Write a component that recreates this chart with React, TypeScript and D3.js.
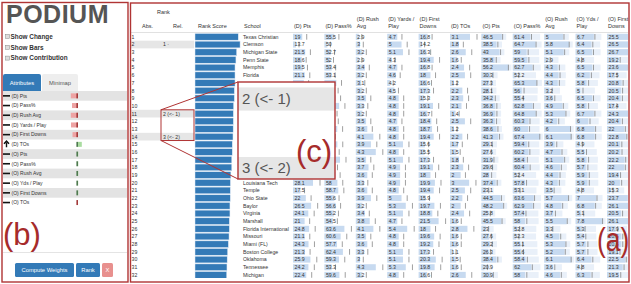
import * as d3 from "d3";

const FONT = "'Liberation Sans', Arial, Helvetica, sans-serif";
const BORDER_RED = "#b03434";
const LABEL_RED = "#a62b2b";
const BLUE = "#337ab7";

// left panel: attributes and their weights
const ATTRIBUTES = ["(D) Pts", "(D) Pass%", "(D) Rush Avg", "(D) Yards / Play", "(D) First Downs", "(D) TOs",
  "(O) Pts", "(O) Pass%", "(O) Rush Avg", "(O) Yds / Play", "(O) First Downs", "(O) TOs"];
const WEIGHTS = [-0.72, -0.6, -0.72, -0.7, -0.55, 0.38, 0.03, 0.03, 0.03, 0.02, 0.03, -0.03];
const ARROW_ATTR = "(D) TOs";
const CHECKBOXES = ["Show Change", "Show Bars", "Show Contribution"];

// ranked table
const SCHOOLS = ["Texas Christian", "Clemson", "Michigan State", "Penn State", "Memphis", "Florida",
  "Alabama", "Oklahoma State", "Iowa", "North Carolina", "Houston", "Stanford", "Notre Dame", "Utah",
  "Toledo", "Navy", "Western Kentucky", "Northwestern", "Wisconsin", "Louisiana Tech", "Temple",
  "Ohio State", "Baylor", "Virginia", "Marshall", "Florida International", "Missouri", "Miami (FL)",
  "Boston College", "Oklahoma", "Tennessee", "Michigan"];
const RANK_SCORES = [0.94, 0.98, 0.906, 0.89, 0.87, 0.87, 0.87, 0.855, 0.855, 0.84, 0.833, 0.833, 0.83,
  0.826, 0.81, 0.81, 0.8, 0.8, 0.78, 0.77, 0.767, 0.767, 0.76, 0.76, 0.746, 0.746, 0.74, 0.725, 0.71,
  0.7, 0.695, 0.69];
const REL_LABELS = ["", "1 ·", "", "", "", "", "", "", "", "", "2 (<- 1)", "", "", "3 (<- 2)", "", "", "",
  "", "", "", "", "", "", "", "", "", "", "", "", "", "", ""];
const HIGHLIGHT_ROWS = [1, 10, 13];

const COLUMN_HEADERS = [["(D) Pts"], ["(D) Pass%"], ["(D) Rush", "Avg"], ["(D) Yards /", "Play"],
  ["(D) First", "Downs"], ["(D) TOs"], ["(O) Pts"], ["(O) Pass%"], ["(O) Rush", "Avg"], ["(O) Yds /", "Play"],
  ["(O) First", "Downs"]];

const D_PTS = [19, 13.7, 21.5, 18.6, 19.5, 21.1, 20.3, 18.2, 22.1, 24.9, 19.5, 21, 18.7, 16.6, 20.9, 21.4,
  17.3, 23.1, 19.1, 28.1, 17.5, 22, 26.5, 24.1, 21, 24.8, 21.1, 24.3, 21.3, 25.9, 24.2, 22.4];
const D_PASS = [55.5, 50, 52.7, 52, 53.4, 53.1, 57.2, 55, 56.6, 59.4, 54.3, 55.1, 57.9, 53.2, 58, 55.7,
  60.1, 54.6, 56.3, 58, 58.7, 55.6, 56.6, 55.2, 54.5, 63.6, 60.6, 57.7, 62.4, 59.3, 53.3, 59.6];
const D_RUSH = [2.9, 3, 3.2, 2.9, 3.4, 3.2, 3.1, 3.2, 3.5, 3.3, 3.2, 3.5, 3.6, 4.1, 3.9, 4.3, 3.5, 3.7,
  3.6, 3.3, 3.6, 3.9, 3.2, 3.4, 3.8, 4.1, 3.5, 3.6, 3.3, 3, 4.3, 3.2];
const D_YPP = [4.7, 5, 5.1, 4.3, 4.7, 4.6, 4.2, 4.5, 4.8, 4.8, 4.8, 4.7, 4.8, 4.8, 5.1, 4.8, 5.1, 4.9,
  4.9, 4.9, 4.8, 5, 5.3, 5.1, 4.7, 5.4, 4.8, 4.8, 5.1, 5.1, 5.3, 4.8];
const D_FD = [16.8, 14.2, 16.3, 19.4, 16.8, 18, 16.6, 17.3, 15.3, 19.1, 16.7, 18.4, 18.7, 19.4, 15.6,
  15.5, 17.3, 19.1, 18, 19.9, 19.4, 15.9, 19.7, 18.8, 21.5, 18, 19.6, 19.2, 17.3, 20.3, 19.8, 16.6];
const D_TOS = [3.1, 1.8, 2.6, 1.6, 2.4, 2.5, 1.2, 2.2, 2.3, 2.1, 1.4, 2.5, 1.2, 2.2, 1.7, 1.5, 1.8, 2.3,
  2, 3, 2.5, 2.2, 2, 2.4, 1.6, 2.8, 1.6, 1.6, 1.1, 1.5, 1.6, 2.6];
const O_PTS = [46.5, 38.5, 43, 35.8, 56.2, 30.3, 27.3, 28.1, 34.2, 36.8, 36.9, 36.3, 38.6, 41.3, 29.1,
  27.6, 31.9, 29.6, 28, 37.4, 23.1, 44.5, 48.2, 25.8, 45.5, 23, 27.6, 29.2, 26.3, 38.4, 20.9, 30.9];
const O_PASS = [61.4, 64.7, 59, 59.5, 62.7, 52.2, 65.3, 56, 55.4, 62.8, 64.8, 60.3, 60, 67.4, 59.4, 60.2,
  58.4, 60.4, 52.4, 57.8, 53.1, 63.6, 62.9, 57.4, 58, 52.8, 52.3, 55.1, 55.6, 58.4, 62, 58];
const O_RUSH = [5, 5.8, 5.1, 2.9, 4.3, 4.4, 4.3, 3.2, 3.6, 4.9, 5.3, 4.2, 6, 6.1, 3.9, 4.7, 5.1, 4.6,
  4.4, 4.3, 3.5, 5.7, 4.8, 3.7, 5.5, 3.3, 4.5, 5.3, 5.2, 6.1, 3.6, 4.6];
const O_YPP = [6.7, 6.4, 6.5, 4.8, 6.5, 6.2, 5.8, 5, 6.5, 5.8, 6.7, 6, 6.8, 6.8, 4.9, 5.5, 5.8, 5.7, 5.9,
  5.9, 4.8, 7, 6.8, 5.1, 7.8, 5.3, 5.4, 5.7, 5.7, 6.4, 4.8, 6.3];
const O_FD = [25.5, 26.5, 26.7, 19.2, 23.6, 17.5, 20.8, 20.5, 20.4, 17.4, 24.3, 20.4, 22, 22.8, 20.1,
  20.2, 22.2, 22, 19.4, 20, 15.3, 23.7, 26.1, 20.5, 26.1, 17.9, 20.6, 20.6, 19.1, 22.5, 21.3, 19.5];
const COLUMN_VALUES = [D_PTS, D_PASS, D_RUSH, D_YPP, D_FD, D_TOS, O_PTS, O_PASS, O_RUSH, O_YPP, O_FD];

const BUTTONS = [
  { label: "Compute Weights", x: 15, w: 59, fill: BLUE },
  { label: "Rank", x: 76, w: 24, fill: BLUE },
  { label: "X", x: 102, w: 11, fill: "#e8908e" },
];

// callout (c) box
const MAG = { x: 238, y: 82, w: 97, h: 97 };

export default function App() {
  const W = 631, H = 284;
  const n = SCHOOLS.length;
  const rowY = d3.scaleBand<number>().domain(d3.range(n)).range([33, 33 + n * 7.68]);
  const bw = rowY.bandwidth();
  const colX = d3.scaleBand<number>().domain(d3.range(COLUMN_HEADERS.length))
    .range([293, 293 + COLUMN_HEADERS.length * 31.4]);
  const scoreX = d3.scaleLinear().domain([0, 1]).range([0, 46]);
  const listY = d3.scaleBand<number>().domain(d3.range(ATTRIBUTES.length))
    .range([91, 91 + ATTRIBUTES.length * 9.7]);
  const lb = listY.bandwidth();
  const weightX = d3.scaleLinear().domain([-1, 1]).range([68, 88]);
  // magnified rows inside callout (c)
  const magY = d3.scaleLinear().domain([13, 14]).range([157, 180.2]);
  const magH = magY(14) - magY(13);

  // texts that sit under the callout box are not visible in the reference
  const hidden = (x: number, y: number) =>
    x > MAG.x - 4 && x < MAG.x + MAG.w && y > MAG.y && y < MAG.y + MAG.h + 3;

  const cells = COLUMN_VALUES.map((vals, c) => {
    const ext = d3.extent(vals) as [number, number];
    const isO = c >= 6;
    const bar = d3.scaleLinear().domain(ext).range(isO ? [3, 27] : [3, 20]);
    const pale = d3.scaleLinear().domain([0, ext[1]]).range([0, 30]);
    const tick = d3.scaleLinear().domain(ext).range([6, 27]);
    return { vals, isO, bar, pale, tick };
  });

  return (
    <svg width={W} height={H} style={{ position: "absolute", left: 0, top: 0, display: "block" }}
      fontFamily={FONT}>
      <defs>
        <clipPath id="tableClip"><rect x={131} y={4} width={497} height={274} /></clipPath>
        <clipPath id="magClip"><rect x={MAG.x} y={MAG.y} width={MAG.w} height={MAG.h} /></clipPath>
      </defs>
      <rect width={W} height={H} fill="#fff" />

      {/* ---------- left panel (b) ---------- */}
      <text x={6} y={23} fontSize={25} fontWeight="bold" fill="#555" letterSpacing={0.5}>PODIUM</text>
      {CHECKBOXES.map((t, i) => (
        <g key={t}>
          <rect x={5.5} y={34.5 + i * 10.8} width={4} height={4} fill="#ddd" stroke="#888" strokeWidth={0.5} />
          <text x={10.5} y={38.8 + i * 10.8} fontSize={6.4} fontWeight="bold" fill="#333">{t}</text>
        </g>
      ))}
      <path d="M3,91 V76 Q3,74 5,74 H39 Q41,74 41,76 V91 Z" fill={BLUE} />
      <text x={22} y={84.8} fontSize={5.8} fill="#fff" textAnchor="middle">Attributes</text>
      <path d="M42,91 V76 Q42,74 44,74 H76 Q78,74 78,76 V91 Z" fill="#eee" />
      <text x={60} y={84.8} fontSize={5.8} fill="#555" textAnchor="middle">Minimap</text>
      {ATTRIBUTES.map((a, i) => {
        const y = listY(i)!;
        const cy = y + lb / 2;
        const w = WEIGHTS[i];
        const x0 = weightX(0);
        const xv = weightX(w);
        const neg = w < 0;
        return (
          <g key={a}>
            {i % 2 === 0 && <rect x={3} y={y} width={124} height={lb} fill="#e3e3e3" />}
            {a === ARROW_ATTR ? (
              <path d={`M6.5,${cy + 3} V${cy - 1.5} M4,${cy - 0.5} L6.5,${cy - 3.2} L9,${cy - 0.5}`}
                stroke="#111" strokeWidth={1.4} fill="none" />
            ) : (
              <rect x={3} y={cy - 0.8} width={7} height={1.6} fill="#111" />
            )}
            <text x={11.5} y={cy + 1.8} fontSize={5} fill="#333">{a}</text>
            <rect x={Math.min(x0, xv)} y={cy - 2.5} width={Math.abs(xv - x0)} height={5}
              fill={neg ? "#eea3a3" : "#a9dca0"} />
            <rect x={x0 - 1.6} y={cy - 2.5} width={1.6} height={5} fill={neg ? "#a33a3a" : "#4f7a4f"} />
          </g>
        );
      })}
      <line x1={3} x2={127} y1={252.5} y2={252.5} stroke="#ddd" strokeWidth={0.8} />
      {BUTTONS.map(b => (
        <g key={b.label}>
          <rect x={b.x} y={263} width={b.w} height={14} rx={1.5} fill={b.fill} />
          <text x={b.x + b.w / 2} y={272} fontSize={5.8} fill="#fff" textAnchor="middle">{b.label}</text>
        </g>
      ))}
      <text x={3} y={245} fontSize={31} fill={LABEL_RED}>(b)</text>
      <rect x={2} y={2.5} width={126} height={279.5} fill="none" stroke={BORDER_RED} strokeWidth={1.4} />

      {/* ---------- right panel (a): ranked table ---------- */}
      <text x={157} y={14} fontSize={5.5} fill="#333">Rank</text>
      <text x={142} y={28} fontSize={5.5} fill="#333">Abs.</text>
      <text x={173} y={28} fontSize={5.5} fill="#333">Rel.</text>
      <text x={198} y={28} fontSize={5.5} fill="#333">Rank Score</text>
      <text x={244} y={28} fontSize={5.5} fill="#333">School</text>
      {COLUMN_HEADERS.map((lines, c) => (
        <text key={c} x={colX(c)! + 1} y={28 - (lines.length - 1) * 7} fontSize={5.5} fill="#333">
          {lines.map((l, k) => <tspan key={k} x={colX(c)! + 1} dy={k === 0 ? 0 : 7}>{l}</tspan>)}
        </text>
      ))}
      <line x1={131} x2={628} y1={32.5} y2={32.5} stroke="#ccc" strokeWidth={0.6} />

      <g clipPath="url(#tableClip)">
        {HIGHLIGHT_ROWS.map(r => (
          <rect key={r} x={131} y={rowY(r)!} width={63} height={bw} fill="#e6e6e6" />
        ))}
        {SCHOOLS.map((s, i) => {
          const y = rowY(i)!;
          const ty = y + bw / 2 + 1.9;
          return (
            <g key={s}>
              <text x={131.5} y={ty} fontSize={5.2} fill="#333">{i + 1}</text>
              <text x={163} y={ty} fontSize={5.2} fill="#333">{REL_LABELS[i]}</text>
              <rect x={195} y={y + 0.5} width={scoreX(RANK_SCORES[i])} height={bw - 1}
                fill={BLUE} stroke="#dfeaf6" strokeWidth={0.5} />
              {!hidden(243, ty) && <text x={243} y={ty} fontSize={5.2} fill="#333">{s}</text>}
            </g>
          );
        })}
        {cells.map((cell, c) => cell.vals.map((v, i) => {
          const x = colX(c)!;
          const y = rowY(i)!;
          const ty = y + bw / 2 + 1.9;
          return (
            <g key={`${c}-${i}`}>
              {cell.isO && <rect x={x} y={y + 0.8} width={cell.pale(v)} height={bw - 1.6} fill="#e9f0f9" />}
              <rect x={x} y={y + 0.8} width={cell.bar(v)} height={bw - 1.6} fill="#c7daf0" />
              <line x1={x + cell.tick(v)} x2={x + cell.tick(v)} y1={y + 1} y2={y + bw - 1}
                stroke="#777" strokeWidth={0.7} />
              {!hidden(x + 1.5, ty) && <text x={x + 1.5} y={ty} fontSize={5.2} fill="#333">{v}</text>}
            </g>
          );
        }))}
        <rect x={131} y={278} width={497} height={2.6} fill="#8a8a8a" />
      </g>

      {/* ---------- callout (c) ---------- */}
      <rect x={161} y={rowY(10)!} width={33} height={rowY(13)! + bw - rowY(10)!} fill="none"
        stroke={BORDER_RED} strokeWidth={1} />
      <line x1={161} y1={rowY(10)!} x2={MAG.x} y2={MAG.y} stroke={BORDER_RED} strokeWidth={1} />
      <line x1={161} y1={rowY(13)! + bw} x2={MAG.x} y2={MAG.y + MAG.h} stroke={BORDER_RED} strokeWidth={1} />
      <rect x={MAG.x} y={MAG.y} width={MAG.w} height={MAG.h} fill="#fff" />
      <g clipPath="url(#magClip)">
        {[9, 10, 11, 12, 13].map(r => (
          <g key={r}>
            {HIGHLIGHT_ROWS.includes(r) && (
              <rect x={MAG.x} y={magY(r)} width={MAG.w} height={magH} fill="#e6e6e6" />
            )}
            {REL_LABELS[r] && (
              <text x={242} y={magY(r) + magH / 2 + 4.5} fontSize={15} fill="#555">{REL_LABELS[r]}</text>
            )}
          </g>
        ))}
      </g>
      <rect x={MAG.x} y={MAG.y} width={MAG.w} height={MAG.h} fill="none" stroke={BORDER_RED} strokeWidth={1.4} />
      <text x={296} y={162} fontSize={31} fill={LABEL_RED}>(c)</text>

      <text transform="translate(597,251) scale(0.8,1)" fontSize={33} fill={LABEL_RED}>(a)</text>
      <rect x={130.5} y={3} width={498.5} height={279} fill="none" stroke={BORDER_RED} strokeWidth={1.4} />
    </svg>
  );
}
